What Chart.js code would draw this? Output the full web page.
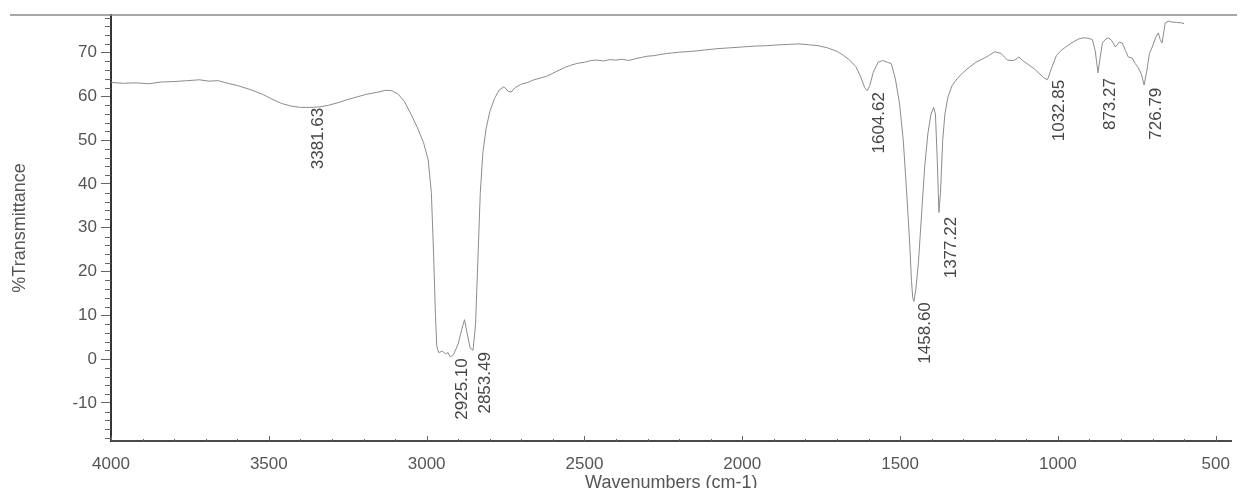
<!DOCTYPE html>
<html>
<head>
<meta charset="utf-8">
<script src="https://cdn.jsdelivr.net/npm/chart.js@4.4.0/dist/chart.umd.min.js"></script>
<style>
  html, body { margin: 0; padding: 0; background: #ffffff; }
  #wrap { width: 1243px; height: 488px; }
</style>
</head>
<body>
<div id="wrap"><canvas id="c" width="1243" height="488"></canvas></div>
<script>
// ---- data ----
const wavenumbers = [
  4000,3960,3920,3880,3840,3800,3760,3720,3690,3660,3630,3600,3560,3520,3490,3460,3430,3400,3370,3340,
  3310,3280,3250,3220,3190,3160,3130,3110,3090,3070,3050,3030,3010,2995,2985,2978,2972,2968,2962,2950,
  2940,2932,2925,2915,2900,2888,2880,2872,2862,2853,2845,2838,2830,2822,2812,2800,2785,2770,2755,2742,
  2732,2720,2700,2680,2660,2640,2620,2600,2580,2560,2540,2520,2500,2480,2460,2440,2420,2400,2380,2360,
  2340,2320,2300,2280,2260,2240,2200,2160,2120,2080,2040,2000,1960,1920,1880,1850,1820,1790,1760,1730,
  1700,1680,1660,1640,1625,1612,1604,1596,1585,1570,1555,1540,1528,1515,1502,1490,1480,1470,1464,1460,
  1456,1450,1442,1432,1422,1412,1402,1394,1388,1382,1377,1372,1365,1358,1348,1335,1320,1300,1280,1260,
  1240,1220,1200,1180,1160,1140,1124,1108,1092,1075,1060,1045,1033,1020,1005,990,975,955,935,920,
  905,891,882,873,866,859,850,840,830,818,806,796,786,777,765,755,745,735,727,718,
  710,701,690,682,676,670,665,660,650,638,625,607,600
];
const transmittance = [
  63.2,63.0,63.1,62.9,63.3,63.4,63.6,63.8,63.5,63.6,63.0,62.5,61.6,60.5,59.4,58.4,57.8,57.5,57.5,57.6,
  58.0,58.6,59.3,59.9,60.5,60.9,61.4,61.3,60.5,58.8,56.0,53.0,49.5,45.5,38.0,24.0,10.0,3.0,1.5,1.8,
  1.2,1.5,0.5,1.0,3.5,7.0,9.0,6.0,2.5,2.0,8.0,22.0,38.0,47.0,52.5,56.5,59.5,61.5,62.2,61.2,
  61.0,62.0,62.8,63.2,63.8,64.2,64.6,65.3,66.0,66.7,67.2,67.6,67.8,68.2,68.3,68.1,68.4,68.3,68.5,68.2,
  68.6,68.9,69.2,69.3,69.6,69.8,70.1,70.3,70.6,70.9,71.1,71.3,71.5,71.6,71.8,71.9,72.0,71.8,71.6,71.1,
  70.3,69.4,68.3,66.8,64.5,62.0,61.3,62.5,65.5,67.8,68.2,67.8,67.5,64.0,58.5,50.0,39.0,27.0,18.0,14.0,
  13.2,16.0,22.0,33.0,44.0,51.5,56.0,57.5,56.0,45.0,33.5,38.0,50.0,56.0,60.0,62.5,64.0,65.5,66.7,67.8,
  68.5,69.3,70.2,69.8,68.3,68.2,69.0,68.0,67.2,66.3,65.3,64.3,63.8,66.5,69.3,70.5,71.3,72.3,73.1,73.4,
  73.3,73.0,70.5,65.4,69.0,72.2,73.0,73.4,72.8,71.3,72.4,72.2,70.5,69.0,68.8,67.5,66.5,65.0,62.6,66.0,
  69.8,71.3,73.5,74.5,73.0,72.2,74.5,76.8,77.2,77.0,76.9,76.8,76.6
];

// peak annotations
const peakText = ['3381.63','2925.10','2853.49','1604.62','1458.60','1377.22','1032.85','873.27','726.79'];
const peakWn   = [3381.63, 2925.10, 2853.49, 1604.62, 1458.60, 1377.22, 1032.85, 873.27, 726.79];
const peakT    = [57.4, 0.2, 1.6, 61.0, 13.0, 32.5, 63.8, 64.2, 62.0];

// axes
const xTicks = [4000, 3500, 3000, 2500, 2000, 1500, 1000, 500];
const yTicks = [-10, 0, 10, 20, 30, 40, 50, 60, 70];
const xMin = 450, xMax = 4000;
const yMin = -18.7, yMax = 78.6;

const points = wavenumbers.map((w, i) => ({ x: w, y: transmittance[i] }));

const FONT = 'Liberation Sans, Arial, sans-serif';

const decor = {
  id: 'decor',
  afterDraw(chart) {
    const ctx = chart.ctx;
    const xs = chart.scales.x, ys = chart.scales.y;
    const area = chart.chartArea;
    ctx.save();
    // top border line of the page frame
    ctx.strokeStyle = '#8a8a8a';
    ctx.lineWidth = 1.5;
    ctx.beginPath();
    ctx.moveTo(10, area.top);
    ctx.lineTo(chart.width - 6, area.top);
    ctx.stroke();

    // y minor ticks (every 2 units)
    ctx.strokeStyle = '#666';
    ctx.lineWidth = 1;
    for (let v = -18; v <= 78; v += 2) {
      if (v % 10 === 0) continue;
      const py = Math.round(ys.getPixelForValue(v)) + 0.5;
      ctx.beginPath();
      ctx.moveTo(area.left - 6, py);
      ctx.lineTo(area.left, py);
      ctx.stroke();
    }
    // x inward ticks
    for (let w = 500; w <= 4000; w += 100) {
      const px = Math.round(xs.getPixelForValue(w)) + 0.5;
      const len = (w % 500 === 0) ? 5 : 2;
      ctx.beginPath();
      ctx.moveTo(px, area.bottom);
      ctx.lineTo(px, area.bottom - len);
      ctx.stroke();
    }

    // peak labels
    ctx.fillStyle = '#454545';
    ctx.font = '17px ' + FONT;
    ctx.textAlign = 'right';
    ctx.textBaseline = 'middle';
    peakText.forEach((t, i) => {
      const px = xs.getPixelForValue(peakWn[i]) + 12;
      const py = ys.getPixelForValue(peakT[i]);
      ctx.save();
      ctx.translate(px, py);
      ctx.rotate(-Math.PI / 2);
      ctx.fillText(t, 0, 0);
      ctx.restore();
    });
    ctx.restore();
  }
};

new Chart(document.getElementById('c'), {
  type: 'line',
  data: {
    datasets: [{
      data: points,
      borderColor: '#8c8c8c',
      borderWidth: 1,
      pointRadius: 0,
      tension: 0,
      fill: false
    }]
  },
  options: {
    responsive: false,
    animation: false,
    devicePixelRatio: 1,
    layout: { padding: { top: 15, right: 6, left: 0, bottom: 0 } },
    plugins: { legend: { display: false }, tooltip: { enabled: false } },
    scales: {
      x: {
        type: 'linear',
        reverse: true,
        min: xMin,
        max: xMax,
        afterBuildTicks: (s) => { s.ticks = xTicks.map(v => ({ value: v })); },
        afterFit: (s) => { s.height = 47; },
        grid: { drawOnChartArea: false, drawTicks: false },
        border: { display: true, color: '#4a4a4a', width: 2 },
        ticks: {
          padding: 13,
          maxRotation: 0,
          autoSkip: false,
          color: '#555',
          font: { family: FONT, size: 17 },
          callback: (v) => String(v)
        },
        title: {
          display: true,
          text: 'Wavenumbers (cm-1)',
          color: '#555',
          font: { family: FONT, size: 18 },
          padding: { top: 0, bottom: -6 }
        }
      },
      y: {
        type: 'linear',
        min: yMin,
        max: yMax,
        afterBuildTicks: (s) => { s.ticks = yTicks.map(v => ({ value: v })); },
        afterFit: (s) => { s.width = 111; },
        grid: { drawOnChartArea: false, drawTicks: true, tickLength: 10, color: '#666' },
        border: { display: true, color: '#333', width: 2 },
        ticks: {
          padding: 4,
          color: '#555',
          font: { family: FONT, size: 17 },
          callback: (v) => String(v)
        },
        title: {
          display: true,
          text: '%Transmittance',
          color: '#555',
          font: { family: FONT, size: 18 },
          padding: { top: 9, bottom: 0 }
        }
      }
    }
  },
  plugins: [decor]
});
</script>
</body>
</html>
